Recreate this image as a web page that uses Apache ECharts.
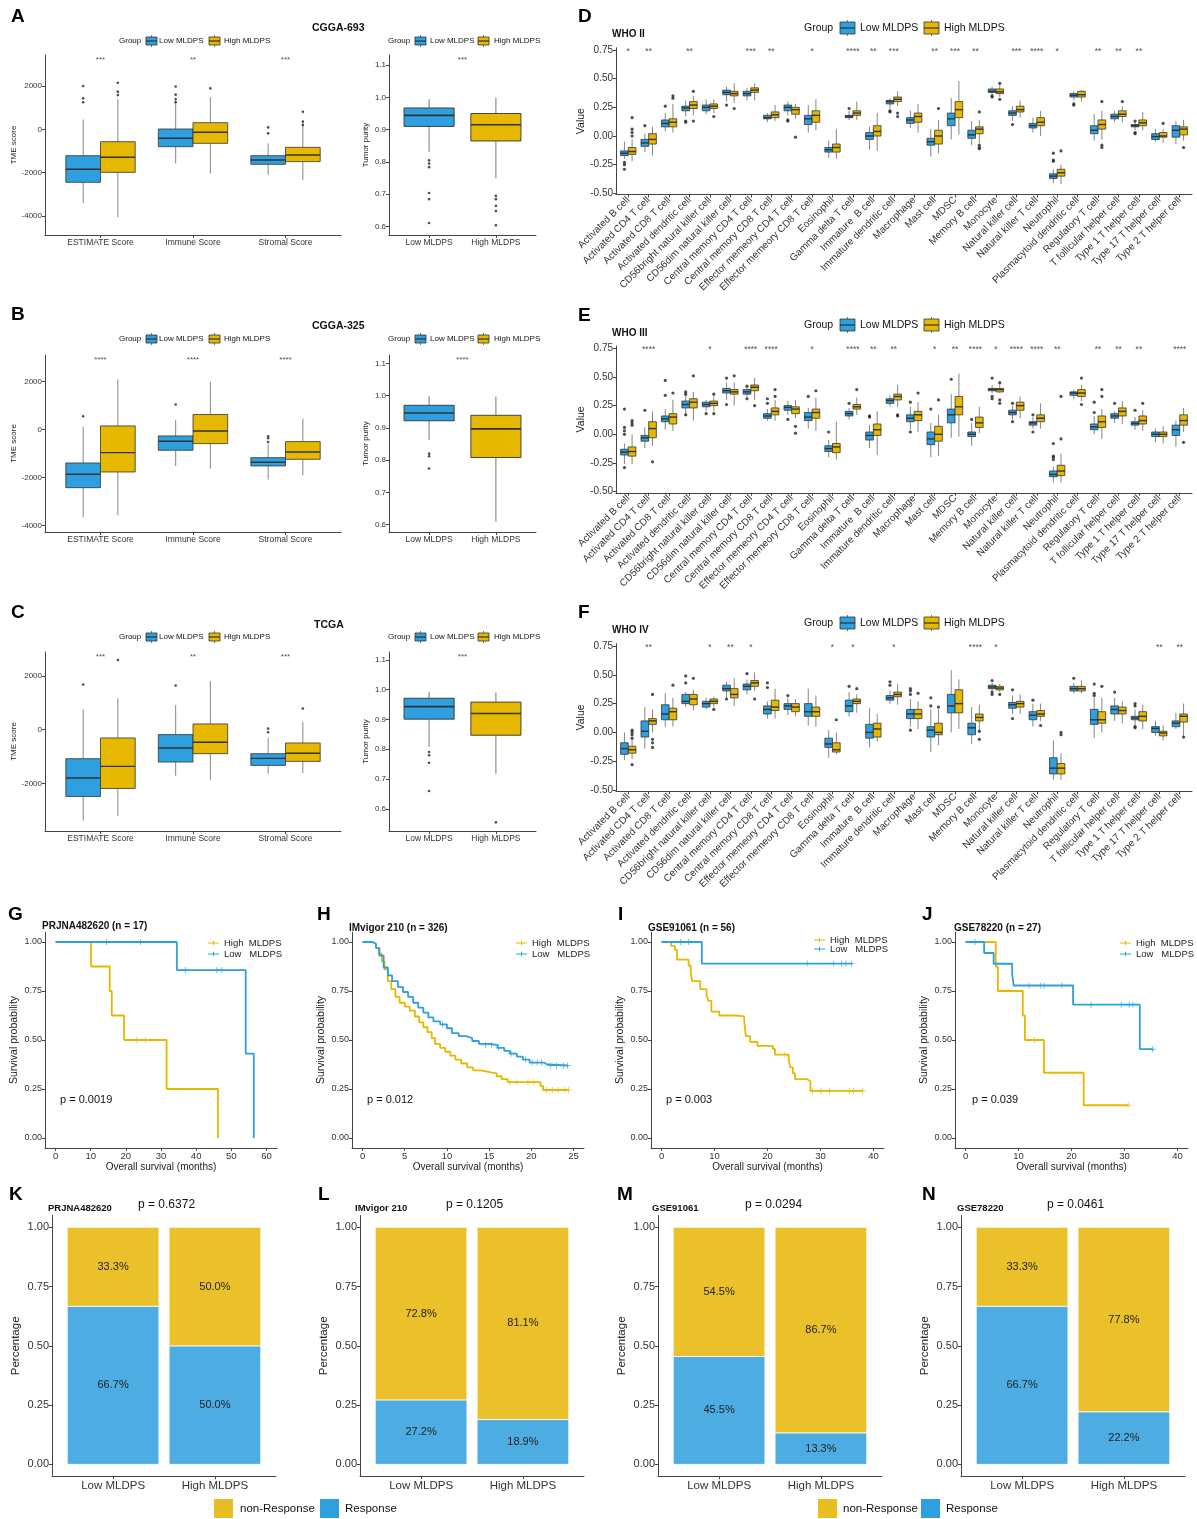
<!DOCTYPE html>
<html>
<head>
<meta charset="utf-8">
<title>MLDPS immune and response panels</title>
<script src="https://cdn.jsdelivr.net/npm/echarts@6/dist/echarts.min.js"></script>
<style>
  html, body { margin: 0; padding: 0; background: #fff; }
  #main { width: 1197px; height: 1519px; }
</style>
</head>
<body>
<div id="main"></div>
<script>
// colours
const LOW = '#2E9FDF', HIGH = '#E7B800';
const BAR_YEL = '#EBC12B', BAR_BLUE = '#4DADE3';
const AX = '#444', TX = '#333', EDGE = '#333', WHISK = '#666';
const FONT = '"Liberation Sans", Arial, Helvetica, sans-serif';

// ---- categories ----
const TME_CATS = ['ESTIMATE Score', 'Immune Score', 'Stromal Score'];
const GROUPS = ['Low MLDPS', 'High MLDPS'];
const CELLS = ['Activated B cell', 'Activated CD4 T cell', 'Activated CD8 T cell', 'Activated dendritic cell',
  'CD56bright natural killer cell', 'CD56dim natural killer cell', 'Central memory CD4 T cell',
  'Central memory CD8 T cell', 'Effector memeory CD4 T cell', 'Effector memeory CD8 T cell', 'Eosinophil',
  'Gamma delta T cell', 'Immature  B cell', 'Immature dendritic cell', 'Macrophage', 'Mast cell', 'MDSC',
  'Memory B cell', 'Monocyte', 'Natural killer cell', 'Natural killer T cell', 'Neutrophil',
  'Plasmacytoid dendritic cell', 'Regulatory T cell', 'T follicular helper cell', 'Type 1 T helper cell',
  'Type 17 T helper cell', 'Type 2 T helper cell'];

// ---- A/B/C: TME scores, [min, q1, median, q3, max] ----
const A_TME_LOW = [[-3415, -2446, -1846, -1215, 450], [-1570, -800, -415, 15, 1350], [-2100, -1615, -1415, -1215, -646]];
const A_TME_HIGH = [[-4060, -1985, -1290, -570, 1385], [-2030, -646, -138, 308, 1480], [-2340, -1490, -1185, -830, 280]];
const A_OUT_LOW = [[1, 2000], [1, 1430], [1, 1250], [2, 1980], [2, 1600], [2, 1400], [2, 1250], [3, 90], [3, -185]];
const A_OUT_HIGH = [[1, 2150], [1, 1740], [1, 1580], [2, 1890], [3, 815], [3, 355], [3, 200]];
const A_STARS = ['***', '**', '***'];
const A_PUR = [[0.831, 0.910, 0.944, 0.967, 0.994], [0.750, 0.865, 0.915, 0.950, 0.999]];
const A_PUR_OUT = [[1, 0.805], [1, 0.795], [1, 0.784], [1, 0.704], [1, 0.685], [1, 0.611],
  [2, 0.695], [2, 0.685], [2, 0.664], [2, 0.648], [2, 0.604]];
const A_PUR_STAR = '***';

const B_TME_LOW = [[-3652, -2425, -1868, -1394, 111], [-1519, -864, -488, -265, 390], [-2090, -1519, -1366, -1171, -613]];
const B_TME_HIGH = [[-3582, -1770, -962, 153, 2090], [-1630, -585, -56, 627, 1993], [-1909, -1240, -934, -502, 460]];
const B_OUT_LOW = [[1, 557], [2, 1045], [3, -279], [3, -362], [3, -516]];
const B_OUT_HIGH = [];
const B_STARS = ['****', '****', '****'];
const B_PUR = [[0.862, 0.922, 0.946, 0.970, 0.998], [0.609, 0.808, 0.897, 0.939, 0.997]];
const B_PUR_OUT = [[1, 0.820], [1, 0.812], [1, 0.774]];
const B_PUR_STAR = '****';

const C_TME_LOW = [[-3379, -2484, -1801, -1081, 745], [-1714, -1205, -683, -186, 907], [-1640, -1329, -1068, -894, -310]];
const C_TME_HIGH = [[-3205, -2186, -1366, -311, 1155], [-1863, -894, -472, 211, 1801], [-1615, -1180, -882, -497, 286]];
const C_OUT_LOW = [[1, 1677], [2, 1640], [3, 37], [3, -99]];
const C_OUT_HIGH = [[1, 2584], [3, 783]];
const C_STARS = ['***', '**', '***'];
const C_PUR = [[0.808, 0.901, 0.943, 0.971, 0.993], [0.718, 0.847, 0.920, 0.958, 0.990]];
const C_PUR_OUT = [[1, 0.791], [1, 0.780], [1, 0.755], [1, 0.660], [2, 0.555]];
const C_PUR_STAR = '***';

// ---- D/E/F: immune cells by WHO grade ----
const D_LOW = [[-0.20,-0.17,-0.15,-0.13,-0.05],[-0.14,-0.09,-0.06,-0.03,0.02],[0.04,0.08,0.11,0.14,0.20],[0.17,0.22,0.245,0.26,0.31],
  [0.19,0.22,0.25,0.27,0.32],[0.30,0.36,0.38,0.40,0.43],[0.31,0.35,0.37,0.39,0.42],[0.12,0.15,0.16,0.18,0.20],
  [0.18,0.22,0.25,0.27,0.30],[0.03,0.10,0.15,0.18,0.27],[-0.19,-0.14,-0.12,-0.10,-0.04],[0.14,0.16,0.17,0.18,0.22],
  [-0.12,-0.03,0.00,0.03,0.08],[0.24,0.28,0.30,0.31,0.33],[0.07,0.11,0.14,0.16,0.22],[-0.18,-0.08,-0.05,-0.02,0.06],
  [-0.03,0.09,0.15,0.20,0.33],[-0.08,-0.02,0.01,0.05,0.13],[0.36,0.38,0.39,0.41,0.43],[0.13,0.18,0.20,0.22,0.26],
  [0.03,0.07,0.09,0.11,0.16],[-0.41,-0.37,-0.35,-0.33,-0.29],[0.31,0.34,0.355,0.37,0.39],[-0.04,0.02,0.05,0.09,0.19],
  [0.12,0.15,0.17,0.19,0.22],[0.05,0.08,0.09,0.10,0.12],[-0.05,-0.03,-0.005,0.02,0.06],[-0.07,-0.01,0.05,0.09,0.13]];
const D_HIGH = [[-0.22,-0.16,-0.135,-0.10,-0.03],[-0.17,-0.07,-0.03,0.02,0.08],[0.03,0.08,0.12,0.15,0.28],[0.18,0.24,0.27,0.30,0.35],
  [0.20,0.24,0.26,0.28,0.32],[0.29,0.35,0.37,0.39,0.46],[0.31,0.38,0.40,0.42,0.46],[0.13,0.16,0.185,0.21,0.27],
  [0.15,0.19,0.23,0.25,0.28],[0.05,0.12,0.18,0.22,0.32],[-0.20,-0.14,-0.10,-0.07,0.06],[0.14,0.18,0.20,0.22,0.30],
  [-0.13,0.00,0.04,0.09,0.20],[0.26,0.30,0.32,0.34,0.39],[0.03,0.12,0.17,0.20,0.28],[-0.15,-0.07,0.00,0.05,0.14],
  [0.01,0.16,0.23,0.30,0.48],[-0.06,0.02,0.06,0.08,0.14],[0.34,0.37,0.385,0.41,0.45],[0.16,0.21,0.23,0.26,0.31],
  [0.00,0.09,0.12,0.16,0.22],[-0.42,-0.35,-0.32,-0.29,-0.25],[0.30,0.34,0.36,0.39,0.40],[-0.03,0.06,0.10,0.14,0.22],
  [0.12,0.17,0.19,0.22,0.26],[0.05,0.09,0.115,0.14,0.21],[-0.06,-0.01,0.00,0.03,0.06],[-0.04,0.01,0.06,0.08,0.14]];
const D_OUT_LOW = [[1,-0.23],[1,-0.25],[1,-0.29],[2,0.09],[3,0.26],[4,0.13],[4,0.12],[6,0.27],[9,0.14],[9,0.13],[12,0.24],
  [14,0.21],[14,0.22],[19,0.35],[19,0.34],[20,0.10],[22,-0.21],[22,-0.22],[22,-0.15],[23,0.28],[23,0.27],[26,0.02],[26,0.03],[26,0.13]];
const D_OUT_HIGH = [[1,0.00],[1,0.03],[1,0.06],[1,0.16],[3,0.33],[3,0.35],[4,0.39],[4,0.13],[5,0.17],[6,0.24],[9,-0.01],
  [14,0.20],[14,0.17],[16,0.24],[18,0.21],[18,-0.08],[18,-0.10],[18,-0.11],[19,0.46],[19,0.32],[22,-0.13],[24,0.30],
  [24,-0.08],[24,-0.10],[25,0.30],[27,0.11],[28,-0.10]];
const D_STARS = ['*','**','','**','','','***','**','','*','','****','**','***','','**','***','**','','***','****','*','','**','**','**','',''];

const E_LOW = [[-0.26,-0.18,-0.155,-0.13,-0.08],[-0.12,-0.06,-0.03,-0.01,0.06],[0.04,0.11,0.135,0.16,0.22],[0.16,0.23,0.26,0.29,0.35],
  [0.20,0.24,0.26,0.28,0.30],[0.30,0.36,0.38,0.40,0.45],[0.32,0.35,0.37,0.39,0.41],[0.12,0.14,0.16,0.18,0.22],
  [0.17,0.21,0.235,0.25,0.29],[0.05,0.12,0.15,0.19,0.23],[-0.20,-0.15,-0.125,-0.10,-0.05],[0.13,0.16,0.18,0.20,0.23],
  [-0.12,-0.05,-0.01,0.02,0.08],[0.24,0.27,0.295,0.31,0.34],[0.04,0.11,0.14,0.17,0.24],[-0.20,-0.09,-0.04,0.02,0.10],
  [-0.03,0.10,0.17,0.22,0.35],[-0.10,-0.02,0.00,0.02,0.10],[0.36,0.38,0.39,0.40,0.43],[0.13,0.17,0.19,0.21,0.25],
  [0.05,0.08,0.10,0.11,0.15],[-0.42,-0.37,-0.35,-0.32,-0.28],[0.31,0.34,0.36,0.37,0.39],[0.00,0.04,0.065,0.09,0.16],
  [0.10,0.14,0.16,0.18,0.20],[0.04,0.08,0.095,0.11,0.15],[-0.07,-0.02,0.00,0.02,0.05],[-0.11,-0.01,0.04,0.08,0.12]];
const E_HIGH = [[-0.26,-0.19,-0.15,-0.11,0.00],[-0.10,-0.03,0.05,0.11,0.20],[0.03,0.09,0.15,0.18,0.30],[0.12,0.23,0.28,0.31,0.37],
  [0.20,0.25,0.27,0.29,0.33],[0.25,0.35,0.37,0.39,0.45],[0.30,0.38,0.41,0.43,0.49],[0.12,0.17,0.20,0.23,0.30],
  [0.14,0.18,0.22,0.24,0.30],[0.03,0.14,0.19,0.22,0.32],[-0.22,-0.16,-0.11,-0.08,0.11],[0.17,0.22,0.24,0.26,0.32],
  [-0.18,-0.01,0.04,0.09,0.20],[0.24,0.30,0.33,0.35,0.43],[0.02,0.12,0.17,0.20,0.28],[-0.19,-0.06,0.00,0.07,0.17],
  [-0.02,0.17,0.24,0.33,0.53],[0.01,0.06,0.10,0.15,0.24],[0.36,0.37,0.39,0.40,0.44],[0.14,0.21,0.25,0.28,0.33],
  [0.05,0.11,0.14,0.17,0.27],[-0.42,-0.36,-0.32,-0.27,-0.17],[0.29,0.33,0.36,0.39,0.43],[-0.04,0.06,0.11,0.16,0.22],
  [0.09,0.16,0.20,0.23,0.29],[0.03,0.09,0.12,0.16,0.21],[-0.08,-0.02,0.00,0.02,0.07],[0.02,0.08,0.12,0.17,0.23]];
const E_OUT_LOW = [[1,-0.29],[1,0.00],[1,0.03],[1,0.06],[1,0.22],[2,0.21],[3,0.34],[3,0.47],[4,0.37],[4,0.35],[4,0.17],[5,0.18],
  [6,0.49],[6,0.26],[7,0.42],[7,0.31],[8,0.27],[8,0.31],[9,0.13],[10,0.33],[11,0.02],[12,0.27],[13,0.16],[13,0.15],[15,0.28],
  [15,0.02],[16,0.22],[17,0.48],[18,0.13],[19,0.49],[19,0.33],[19,0.31],[20,0.27],[20,0.11],[21,0.02],[21,0.17],[22,-0.19],
  [22,-0.20],[22,-0.22],[22,-0.08],[24,0.19],[24,0.28],[25,0.27],[26,0.21]];
const E_OUT_HIGH = [[1,0.08],[1,0.10],[1,0.12],[2,-0.24],[3,0.36],[4,0.51],[5,0.35],[5,0.18],[6,0.51],[7,0.25],[8,0.33],[8,0.39],
  [9,0.07],[9,0.01],[10,0.38],[12,0.39],[14,0.17],[14,0.16],[15,0.36],[16,0.30],[19,0.45],[19,0.30],[19,0.27],[22,-0.04],
  [22,0.33],[23,0.49],[23,0.26],[24,0.33],[24,0.39],[26,0.27],[28,-0.07]];
const E_STARS = ['','****','','','*','','****','****','','*','','****','**','**','','*','**','****','*','****','****','**','','**','**','**','','****'];

const F_LOW = [[-0.24,-0.19,-0.14,-0.09,0.00],[-0.14,-0.04,0.01,0.10,0.22],[0.05,0.11,0.16,0.24,0.34],[0.22,0.25,0.27,0.33,0.35],
  [0.20,0.22,0.25,0.27,0.30],[0.30,0.36,0.38,0.41,0.44],[0.33,0.37,0.40,0.42,0.46],[0.12,0.16,0.20,0.23,0.27],
  [0.15,0.20,0.23,0.25,0.30],[0.06,0.14,0.18,0.25,0.38],[-0.22,-0.13,-0.10,-0.05,0.02],[0.14,0.18,0.23,0.28,0.35],
  [-0.13,-0.05,0.00,0.07,0.21],[0.25,0.28,0.30,0.32,0.36],[0.05,0.12,0.16,0.20,0.29],[-0.17,-0.04,0.02,0.05,0.20],
  [0.00,0.17,0.23,0.33,0.54],[-0.10,-0.02,0.04,0.08,0.22],[0.36,0.38,0.395,0.41,0.43],[0.16,0.21,0.24,0.26,0.32],
  [0.05,0.11,0.15,0.18,0.25],[-0.41,-0.36,-0.31,-0.22,-0.07],[0.34,0.36,0.38,0.40,0.43],[-0.05,0.07,0.11,0.20,0.30],
  [0.10,0.16,0.20,0.23,0.30],[0.06,0.11,0.125,0.14,0.20],[-0.03,0.00,0.035,0.05,0.10],[0.03,0.05,0.08,0.10,0.17]];
const F_HIGH = [[-0.23,-0.18,-0.15,-0.12,-0.06],[0.00,0.07,0.10,0.12,0.20],[0.05,0.11,0.18,0.21,0.30],[0.19,0.24,0.29,0.33,0.37],
  [0.22,0.25,0.27,0.29,0.31],[0.23,0.30,0.33,0.38,0.47],[0.36,0.40,0.43,0.45,0.52],[0.12,0.19,0.22,0.28,0.38],
  [0.14,0.18,0.22,0.25,0.29],[0.05,0.14,0.18,0.22,0.32],[-0.19,-0.17,-0.15,-0.09,0.00],[0.17,0.25,0.27,0.29,0.33],
  [-0.08,-0.04,0.03,0.08,0.16],[0.24,0.31,0.33,0.35,0.42],[0.03,0.12,0.16,0.20,0.27],[-0.11,-0.02,0.00,0.08,0.20],
  [0.03,0.17,0.25,0.37,0.46],[0.02,0.10,0.13,0.16,0.24],[0.35,0.37,0.385,0.40,0.42],[0.16,0.22,0.25,0.27,0.33],
  [0.10,0.14,0.16,0.19,0.25],[-0.41,-0.36,-0.31,-0.27,-0.18],[0.34,0.36,0.38,0.40,0.45],[0.00,0.08,0.11,0.18,0.30],
  [0.08,0.16,0.19,0.22,0.27],[0.03,0.10,0.14,0.18,0.24],[-0.07,-0.03,-0.005,0.01,0.06],[-0.03,0.09,0.14,0.16,0.25]];
const F_OUT_LOW = [[4,0.43],[4,0.49],[6,0.29],[7,0.51],[8,0.39],[8,0.43],[9,0.32],[12,0.40],[14,0.41],[14,0.44],[15,0.33],
  [15,0.36],[15,0.38],[15,0.02],[16,0.23],[16,0.30],[19,0.45],[19,0.35],[19,0.33],[20,0.37],[20,0.12],[21,0.28],[23,0.47],
  [24,0.32],[24,0.34],[24,0.42],[25,0.35],[26,0.04],[26,0.05],[26,0.23],[26,0.25]];
const F_OUT_HIGH = [[1,-0.28],[1,0.00],[1,0.02],[1,-0.02],[1,-0.05],[2,0.33],[2,-0.06],[2,-0.09],[2,-0.13],[3,0.41],[4,0.47],
  [5,0.20],[7,0.29],[11,0.11],[12,0.38],[15,0.34],[16,0.22],[18,0.01],[18,-0.06],[19,0.33],[21,0.06],[22,-0.02],[22,0.00],
  [24,0.40],[28,-0.04]];
const F_STARS = ['','**','','','*','**','*','','','','*','*','','*','','','','****','*','','','','','','','','**','**'];

// ---- G-J: Kaplan-Meier steps [month, survival] ----
const G_HIGH = [[0,1],[10.1,0.875],[15.4,0.75],[16.0,0.625],[19.5,0.5],[31.6,0.25],[46.2,0]];
const G_HIGH_CENS = [[23.1,0.5],[25.6,0.5]];
const G_LOW = [[0,1],[34.5,0.857],[54.1,0.43],[56.4,0]];
const G_LOW_CENS = [[14.5,1],[24.2,1],[36.9,0.857],[45.9,0.857],[47.3,0.857]];

const H_HIGH = [[0,1],[1.2,0.99],[1.6,0.97],[1.9,0.94],[2.3,0.9],[2.6,0.86],[3.0,0.8],[3.4,0.76],[3.9,0.72],[4.4,0.69],
  [5.0,0.67],[5.6,0.65],[6.2,0.62],[6.7,0.59],[7.2,0.565],[7.7,0.54],[8.2,0.51],[8.6,0.48],[9.2,0.46],[9.8,0.44],
  [10.4,0.42],[11.0,0.40],[11.7,0.38],[12.4,0.36],[13.1,0.345],[14.0,0.335],[15.2,0.33],[15.9,0.315],[16.5,0.30],
  [17.2,0.285],[21.1,0.265],[21.4,0.245],[24.4,0.245]];
const H_HIGH_CENS = [[17.5,0.285],[18.3,0.285],[19.6,0.285],[20.3,0.285],[21.8,0.245],[22.5,0.245],[23.2,0.245],[24.0,0.245],[24.4,0.245]];
const H_LOW = [[0,1],[1.2,0.99],[1.6,0.97],[2.0,0.93],[2.5,0.87],[3.0,0.83],[3.5,0.8],[4.2,0.77],[4.8,0.745],[5.4,0.72],
  [6.0,0.69],[6.6,0.665],[7.2,0.64],[7.8,0.615],[8.4,0.595],[9.2,0.58],[10.0,0.56],[10.6,0.535],[11.4,0.52],[12.3,0.51],
  [13.0,0.495],[13.8,0.48],[15.0,0.475],[16.0,0.46],[16.8,0.445],[17.5,0.43],[18.3,0.415],[19.0,0.4],[19.8,0.385],
  [21.5,0.375],[21.9,0.37],[24.3,0.37]];
const H_LOW_CENS = [[9.5,0.58],[14.6,0.475],[15.3,0.475],[16.1,0.46],[17.6,0.43],[19.3,0.4],[20.1,0.385],[20.7,0.385],
  [21.2,0.385],[22.3,0.37],[23.0,0.37],[23.8,0.37],[24.3,0.37]];

const I_HIGH = [[0,1],[1.8,0.98],[2.5,0.96],[2.9,0.91],[5.1,0.88],[5.5,0.84],[5.8,0.80],[7.3,0.76],[8.5,0.73],[8.8,0.70],
  [9.4,0.645],[10.9,0.625],[14.1,0.62],[15.6,0.60],[15.9,0.52],[16.7,0.49],[18.1,0.47],[21.0,0.455],[21.4,0.425],
  [24.0,0.40],[24.3,0.36],[24.8,0.33],[25.2,0.30],[27.5,0.29],[28.1,0.24],[38.0,0.24]];
const I_HIGH_CENS = [[23.3,0.425],[28.5,0.24],[30.1,0.24],[31.7,0.24],[35.5,0.24],[36.2,0.24],[38.0,0.24]];
const I_LOW = [[0,1],[7.6,0.89],[36.0,0.89]];
const I_LOW_CENS = [[3.6,1],[5.1,1],[27.5,0.89],[32.5,0.89],[34.0,0.89],[34.8,0.89],[35.9,0.89]];

const J_HIGH = [[0,1],[5.7,0.875],[6.1,0.75],[10.8,0.625],[11.2,0.5],[14.8,0.333],[22.3,0.167],[30.7,0.167]];
const J_HIGH_CENS = [[13.0,0.5],[30.7,0.167]];
const J_LOW = [[0,1],[3.5,0.944],[5.3,0.889],[8.8,0.833],[9.1,0.778],[20.3,0.68],[32.9,0.453],[35.3,0.453]];
const J_LOW_CENS = [[1.8,1],[12.0,0.778],[14.2,0.778],[14.8,0.778],[18.2,0.778],[23.7,0.68],[29.4,0.68],[30.9,0.68],[31.6,0.68],[35.3,0.453]];

// ---- K-N: response proportions (Low MLDPS, High MLDPS) ----
const K_RESP = [0.667, 0.500], K_NON = [0.333, 0.500];
const L_RESP = [0.272, 0.189], L_NON = [0.728, 0.811];
const M_RESP = [0.455, 0.133], M_NON = [0.545, 0.867];
const N_RESP = [0.667, 0.222], N_NON = [0.333, 0.778];

// ================= building =================
const grid = [], xAxis = [], yAxis = [], series = [], graphic = [], legend = [];

function inRange(ticks, r) { return ticks.filter(v => v >= r[0] && v <= r[1]); }

function panel(box, xr, xt, xfmt, yr, yt, yfmt, o) {
  grid.push({left: box[0], top: box[1], width: box[2], height: box[3]});
  const g = grid.length - 1;
  xt = inRange(xt, xr); yt = inRange(yt, yr);
  xAxis.push({
    gridIndex: g, type: 'value', min: xr[0], max: xr[1],
    axisLine: {show: true, onZero: false, lineStyle: {color: AX, width: 1}},
    axisTick: {show: true, length: 3, customValues: xt, lineStyle: {color: AX}},
    axisLabel: {customValues: xt, formatter: xfmt, fontSize: o.xfs, color: TX, margin: o.xm || 3, rotate: o.rot || 0},
    splitLine: {show: false},
    name: o.xname || '', nameLocation: 'middle', nameGap: o.xgap || 0,
    nameTextStyle: {fontSize: o.xnfs || 10, color: '#222'}
  });
  yAxis.push({
    gridIndex: g, type: 'value', min: yr[0], max: yr[1],
    axisLine: {show: true, onZero: false, lineStyle: {color: AX, width: 1}},
    axisTick: {show: true, length: 3, customValues: yt, lineStyle: {color: AX}},
    axisLabel: {customValues: yt, formatter: yfmt, fontSize: o.yfs, color: TX, margin: o.ym || 3},
    splitLine: {show: false},
    name: o.yname || '', nameLocation: 'middle', nameGap: o.ygap || 0, nameRotate: 90,
    nameTextStyle: {fontSize: o.ynfs || 10, color: '#222'}
  });
  return g;
}

function addBoxes(g, stats, xs, halfW, fill, lw) {
  series.push({
    type: 'custom', xAxisIndex: g, yAxisIndex: g, silent: true,
    data: stats.map((s, i) => [xs[i]].concat(s)),
    encode: {x: 0, y: [1, 2, 3, 4, 5]},
    renderItem: function (params, api) {
      const x = api.value(0);
      const top = api.coord([x, api.value(5)]);
      const q3 = api.coord([x, api.value(4)]);
      const md = api.coord([x, api.value(3)]);
      const q1 = api.coord([x, api.value(2)]);
      const bot = api.coord([x, api.value(1)]);
      const l = api.coord([x - halfW, api.value(3)])[0];
      const r = api.coord([x + halfW, api.value(3)])[0];
      return {type: 'group', children: [
        {type: 'line', shape: {x1: top[0], y1: top[1], x2: q3[0], y2: q3[1]}, style: {stroke: WHISK, lineWidth: lw}},
        {type: 'line', shape: {x1: q1[0], y1: q1[1], x2: bot[0], y2: bot[1]}, style: {stroke: WHISK, lineWidth: lw}},
        {type: 'rect', shape: {x: l, y: q3[1], width: r - l, height: q1[1] - q3[1]}, style: {fill: fill, stroke: EDGE, lineWidth: lw}},
        {type: 'line', shape: {x1: l, y1: md[1], x2: r, y2: md[1]}, style: {stroke: EDGE, lineWidth: lw * 1.8}}
      ]};
    }
  });
}

function addDots(g, pts, dx, size) {
  series.push({type: 'scatter', xAxisIndex: g, yAxisIndex: g, silent: true, symbolSize: size,
    itemStyle: {color: '#222'}, data: pts.map(p => [p[0] + dx, p[1]])});
}

function addStars(g, labels, xs, yr, fs) {
  const y = yr[1] - (yr[1] - yr[0]) * 0.028;
  series.push({type: 'scatter', xAxisIndex: g, yAxisIndex: g, silent: true, symbolSize: 1,
    itemStyle: {color: 'rgba(0,0,0,0)'},
    data: labels.map((s, i) => [xs[i], y, s]).filter(d => d[2]),
    label: {show: true, position: 'inside', formatter: p => p.value[2], fontSize: fs, color: '#222'}});
}

function txt(t, x, y, fs, o) {
  o = o || {};
  graphic.push({type: 'text', x: x, y: y, silent: true, style: {
    text: t, fontSize: fs, fontWeight: o.bold ? 'bold' : 'normal', fontFamily: FONT, fill: o.color || '#111',
    textAlign: o.align || 'left', textVerticalAlign: 'middle', align: o.align || 'left', verticalAlign: 'middle'}});
}

function boxKey(x, yc, w, h, fill) {
  graphic.push({type: 'line', silent: true, shape: {x1: x + w / 2, y1: yc - h / 2 - 2, x2: x + w / 2, y2: yc + h / 2 + 2}, style: {stroke: '#555', lineWidth: 0.8}});
  graphic.push({type: 'rect', silent: true, shape: {x: x, y: yc - h / 2, width: w, height: h}, style: {fill: fill, stroke: '#333', lineWidth: 0.8}});
  graphic.push({type: 'line', silent: true, shape: {x1: x, y1: yc, x2: x + w, y2: yc}, style: {stroke: '#333', lineWidth: 1.2}});
}

function boxLegend(y, xs, fs, kw, kh) {
  txt('Group', xs[0], y, fs);
  boxKey(xs[1], y, kw, kh, LOW);
  txt(GROUPS[0], xs[2], y, fs);
  boxKey(xs[3], y, kw, kh, HIGH);
  txt(GROUPS[1], xs[4], y, fs);
}

// ---- A/B/C ----
function tmePanel(top, h, yr, low, high, oL, oH, stars) {
  const xs = [1, 2, 3];
  const g = panel([45, top, 296, h], [0.4, 3.6], xs, v => TME_CATS[Math.round(v) - 1], yr,
    [-4000, -2000, 0, 2000], v => String(v),
    {xfs: 8.5, xm: 3, yfs: 8, ym: 3, yname: 'TME score', ygap: 25, ynfs: 8});
  addBoxes(g, low, xs.map(x => x - 0.1875), 0.1875, LOW, 0.8);
  addBoxes(g, high, xs.map(x => x + 0.1875), 0.1875, HIGH, 0.8);
  addDots(g, oL, -0.1875, 2.6);
  addDots(g, oH, 0.1875, 2.6);
  addStars(g, stars, xs, yr, 8);
}
function purityPanel(top, h, yr, stats, outs, star) {
  const g = panel([389, top, 147, h], [0.4, 2.6], [1, 2], v => GROUPS[Math.round(v) - 1], yr,
    [0.6, 0.7, 0.8, 0.9, 1.0, 1.1], v => v.toFixed(1),
    {xfs: 8.5, xm: 3, yfs: 8, ym: 3, yname: 'Tumor purity', ygap: 19, ynfs: 8});
  addBoxes(g, [stats[0]], [1], 0.375, LOW, 0.9);
  addBoxes(g, [stats[1]], [2], 0.375, HIGH, 0.9);
  addDots(g, outs, 0, 2.6);
  addStars(g, [star], [1.5], yr, 8);
}

tmePanel(55, 180, [-4877, 3431], A_TME_LOW, A_TME_HIGH, A_OUT_LOW, A_OUT_HIGH, A_STARS);
purityPanel(55, 180, [0.574, 1.131], A_PUR, A_PUR_OUT, A_PUR_STAR);
tmePanel(355, 177, [-4275, 3112], B_TME_LOW, B_TME_HIGH, B_OUT_LOW, B_OUT_HIGH, B_STARS);
purityPanel(355, 177, [0.577, 1.126], B_PUR, B_PUR_OUT, B_PUR_STAR);
tmePanel(652, 179, [-3767, 2883], C_TME_LOW, C_TME_HIGH, C_OUT_LOW, C_OUT_HIGH, C_STARS);
purityPanel(652, 179, [0.526, 1.126], C_PUR, C_PUR_OUT, C_PUR_STAR);

txt('CGGA-693', 312, 28, 10.5, {bold: true});
txt('CGGA-325', 312, 326, 10.5, {bold: true});
txt('TCGA', 314, 625, 10.5, {bold: true});
[41, 339, 637].forEach(y => {
  boxLegend(y, [119, 146, 159, 209, 224], 8, 11, 8);
  boxLegend(y, [388, 415, 430, 478, 494], 8, 11, 8);
});

// ---- D/E/F ----
function immunePanel(top, h, low, high, oL, oH, stars) {
  const xs = CELLS.map((c, i) => i + 1);
  const yr = [-0.51, 0.77];
  const g = panel([616, top, 576, h], [0.4, 28.6], xs, v => CELLS[Math.round(v) - 1], yr,
    [-0.5, -0.25, 0, 0.25, 0.5, 0.75], v => v.toFixed(2),
    {xfs: 10, xm: 4, rot: 45, yfs: 10, ym: 3, yname: 'Value', ygap: 29, ynfs: 10.5});
  addBoxes(g, low, xs.map(x => x - 0.1875), 0.1875, LOW, 0.8);
  addBoxes(g, high, xs.map(x => x + 0.1875), 0.1875, HIGH, 0.8);
  addDots(g, oL, -0.1875, 3.2);
  addDots(g, oH, 0.1875, 3.2);
  addStars(g, stars, xs, yr, 8.5);
}
immunePanel(47.7, 146.8, D_LOW, D_HIGH, D_OUT_LOW, D_OUT_HIGH, D_STARS);
immunePanel(346, 146.8, E_LOW, E_HIGH, E_OUT_LOW, E_OUT_HIGH, E_STARS);
immunePanel(643.7, 147.5, F_LOW, F_HIGH, F_OUT_LOW, F_OUT_HIGH, F_STARS);
txt('WHO II', 612, 34, 10, {bold: true});
txt('WHO III', 612, 333, 10, {bold: true});
txt('WHO IV', 612, 630, 10, {bold: true});
[28, 325, 623].forEach(y => boxLegend(y, [804, 840, 860, 924, 944], 10.5, 15, 12));

// ---- G-J ----
const KM_ICON = 'path://M0,3.9H24V6.1H0Z M10.9,0H13.1V10H10.9Z';
const CENS = 'path://M-0.7,-5H0.7V-0.7H5V0.7H0.7V5H-0.7V0.7H-5V-0.7H-0.7Z';
function kmPanel(left, width, xr, xt, hi, hiC, lo, loC, leg) {
  const g = panel([left, 932.2, width, 215.6], xr, xt, v => String(v), [-0.05, 1.05],
    [0, 0.25, 0.5, 0.75, 1], v => v.toFixed(2),
    {xfs: 9.5, xm: 4, xname: 'Overall survival (months)', xgap: 14, xnfs: 10,
     yfs: 9, ym: 3, yname: 'Survival probability', ygap: 25, ynfs: 10.5});
  [[GROUPS[1], hi, hiC, HIGH], [GROUPS[0], lo, loC, LOW]].forEach(([name, pts, cens, col]) => {
    series.push({name: name, type: 'line', step: 'end', xAxisIndex: g, yAxisIndex: g, silent: true,
      showSymbol: false, data: pts, lineStyle: {color: col, width: 1.8}, itemStyle: {color: col}});
    series.push({type: 'scatter', xAxisIndex: g, yAxisIndex: g, silent: true, symbol: CENS,
      symbolSize: 6, itemStyle: {color: col}, data: cens});
  });
  legend.push({left: leg[0], top: leg[1], orient: 'vertical', itemWidth: 11, itemHeight: 7, itemGap: leg[2],
    padding: 0, selectedMode: false, textStyle: {fontSize: 9.5, color: '#222'},
    formatter: n => n === GROUPS[1] ? 'High  MLDPS' : 'Low   MLDPS',
    data: [{name: GROUPS[1], icon: KM_ICON}, {name: GROUPS[0], icon: KM_ICON}]});
}
kmPanel(45, 232, [-3, 63], [0, 10, 20, 30, 40, 50, 60], G_HIGH, G_HIGH_CENS, G_LOW, G_LOW_CENS, [208, 938, 1]);
kmPanel(352, 232, [-1.25, 26.25], [0, 5, 10, 15, 20, 25], H_HIGH, H_HIGH_CENS, H_LOW, H_LOW_CENS, [516, 938, 1]);
kmPanel(651, 233, [-2, 42], [0, 10, 20, 30, 40], I_HIGH, I_HIGH_CENS, I_LOW, I_LOW_CENS, [814, 935, -1]);
kmPanel(955, 233, [-2, 42], [0, 10, 20, 30, 40], J_HIGH, J_HIGH_CENS, J_LOW, J_LOW_CENS, [1120, 938, 1]);
txt('PRJNA482620 (n = 17)', 42, 926, 10, {bold: true});
txt('IMvigor 210 (n = 326)', 349, 928, 10, {bold: true});
txt('GSE91061 (n = 56)', 648, 928, 10, {bold: true});
txt('GSE78220 (n = 27)', 954, 928, 10, {bold: true});
txt('p = 0.0019', 60, 1100, 11);
txt('p = 0.012', 367, 1100, 11);
txt('p = 0.003', 666, 1100, 11);
txt('p = 0.039', 972, 1100, 11);

// ---- K-N ----
function barSeries(g, name, data, color) {
  return {type: 'custom', name: name, xAxisIndex: g, yAxisIndex: g, silent: true, itemStyle: {color: color},
    data: data, encode: {x: 0, y: [1, 2]},
    renderItem: function (params, api) {
      const x = api.value(0), y0 = api.value(1), y1 = api.value(2);
      const a = api.coord([x - 0.45, y1]), b = api.coord([x + 0.45, y0]);
      const label = ((y1 - y0) * 100).toFixed(1) + '%';
      return {type: 'group', children: [
        {type: 'rect', shape: {x: a[0], y: a[1], width: b[0] - a[0], height: b[1] - a[1]},
          style: {fill: color, stroke: 'rgba(255,255,255,0.75)', lineWidth: 1}},
        {type: 'text', x: (a[0] + b[0]) / 2, y: (a[1] + b[1]) / 2,
          style: {text: label, fontSize: 11, fontFamily: FONT, fill: '#222',
            textAlign: 'center', textVerticalAlign: 'middle', align: 'center', verticalAlign: 'middle'}}
      ]};
    }};
}
function barPanel(left, resp, non) {
  const g = panel([left, 1215.5, 224, 260.7], [0.4, 2.6], [1, 2], v => GROUPS[Math.round(v) - 1],
    [-0.05, 1.05], [0, 0.25, 0.5, 0.75, 1], v => v.toFixed(2),
    {xfs: 11.5, xm: 4, yfs: 11, ym: 3, yname: 'Percentage', ygap: 30, ynfs: 11.5});
  series.push(barSeries(g, 'Response', resp.map((v, i) => [i + 1, 0, v]), BAR_BLUE));
  series.push(barSeries(g, 'non-Response', non.map((v, i) => [i + 1, resp[i], resp[i] + v]), BAR_YEL));
}
barPanel(52, K_RESP, K_NON);
barPanel(360, L_RESP, L_NON);
barPanel(658, M_RESP, M_NON);
barPanel(961, N_RESP, N_NON);
txt('PRJNA482620', 48, 1208, 9.5, {bold: true});
txt('p = 0.6372', 138, 1205, 12);
txt('IMvigor 210', 355, 1208, 9.5, {bold: true});
txt('p = 0.1205', 446, 1205, 12);
txt('GSE91061', 652, 1208, 9.5, {bold: true});
txt('p = 0.0294', 745, 1205, 12);
txt('GSE78220', 957, 1208, 9.5, {bold: true});
txt('p = 0.0461', 1047, 1205, 12);
[[214, 240, 320, 345], [818, 843, 921, 946]].forEach(p => {
  graphic.push({type: 'rect', silent: true, shape: {x: p[0], y: 1499, width: 19, height: 19}, style: {fill: '#E9BE23'}});
  txt('non-Response', p[1], 1509, 11.5);
  graphic.push({type: 'rect', silent: true, shape: {x: p[2], y: 1499, width: 19, height: 19}, style: {fill: '#2E9FDF'}});
  txt('Response', p[3], 1509, 11.5);
});

// ---- panel letters ----
[['A', 11, 17], ['B', 11, 315], ['C', 11, 613], ['D', 578, 17], ['E', 578, 316], ['F', 578, 613],
 ['G', 8, 915], ['H', 317, 915], ['I', 618, 915], ['J', 922, 915],
 ['K', 9, 1195], ['L', 318, 1195], ['M', 617, 1195], ['N', 922, 1195]].forEach(l => txt(l[0], l[1], l[2], 19, {bold: true, color: '#000'}));

const chart = echarts.init(document.getElementById('main'));
chart.setOption({
  animation: false,
  backgroundColor: '#fff',
  textStyle: {fontFamily: FONT},
  grid: grid, xAxis: xAxis, yAxis: yAxis, series: series, legend: legend,
  graphic: {elements: graphic}
});
</script>
</body>
</html>
